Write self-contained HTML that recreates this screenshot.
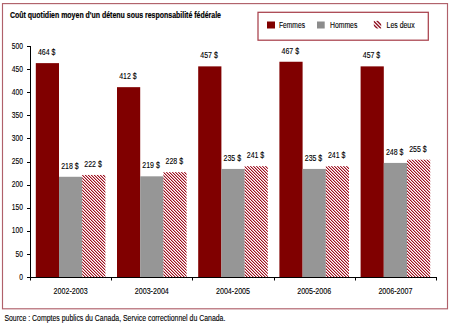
<!DOCTYPE html><html><head><meta charset="utf-8"><style>html,body{margin:0;padding:0;background:#fff;width:450px;height:326px;overflow:hidden}svg{display:block}</style></head><body><svg width="450" height="326" viewBox="0 0 450 326" style="font-family:'Liberation Sans',sans-serif"><defs><pattern id="h" patternUnits="userSpaceOnUse" x="0" y="0" width="3" height="3" shape-rendering="crispEdges"><rect x="0" y="0" width="1" height="1" fill="#9c101e"/><rect x="1" y="1" width="1" height="1" fill="#9c101e"/><rect x="2" y="2" width="1" height="1" fill="#9c101e"/><rect x="1" y="0" width="1" height="1" fill="#dc9aa2"/><rect x="2" y="1" width="1" height="1" fill="#dc9aa2"/><rect x="0" y="2" width="1" height="1" fill="#dc9aa2"/></pattern></defs><rect x="0" y="0" width="450" height="326" fill="#fff"/><rect x="2.5" y="3.6" width="445" height="305.2" fill="none" stroke="#b0606a" stroke-width="1.15"/><text x="10" y="17.8" font-size="9.6" font-weight="bold" fill="#000" stroke="#000" stroke-width="0.2" textLength="211" lengthAdjust="spacingAndGlyphs">Coût quotidien moyen d'un détenu sous responsabilité fédérale</text><rect x="258" y="12.3" width="170.3" height="27.9" fill="none" stroke="#a8404c" stroke-width="1.25"/><rect x="267" y="21.5" width="8" height="7" fill="#800000"/><text x="279" y="28.4" font-size="8.5" fill="#000" stroke="#000" stroke-width="0.12" textLength="26" lengthAdjust="spacingAndGlyphs">Femmes</text><rect x="317" y="21.5" width="7.7" height="7" fill="#8c8c8c"/><text x="330" y="28.4" font-size="8.5" fill="#000" stroke="#000" stroke-width="0.12" textLength="27.3" lengthAdjust="spacingAndGlyphs">Hommes</text><clipPath id="lc"><rect x="373.8" y="20.8" width="7.4" height="7.6"/></clipPath><g clip-path="url(#lc)" stroke="#901020" stroke-width="1.35"><path d="M373,20.5L382,29.5M376.6,20.5L382,25.9M372.5,23.6L378,29.1"/></g><text x="386.6" y="28.4" font-size="8.5" fill="#000" stroke="#000" stroke-width="0.12" textLength="28" lengthAdjust="spacingAndGlyphs">Les deux</text><line x1="27" y1="277.5" x2="30.5" y2="277.5" stroke="#000" stroke-width="1"/><text x="22.9" y="279.60" font-size="8.3" fill="#000" stroke="#000" stroke-width="0.12" text-anchor="end" textLength="3.73" lengthAdjust="spacingAndGlyphs">0</text><line x1="27" y1="254.5" x2="30.5" y2="254.5" stroke="#000" stroke-width="1"/><text x="22.9" y="256.50" font-size="8.3" fill="#000" stroke="#000" stroke-width="0.12" text-anchor="end" textLength="7.47" lengthAdjust="spacingAndGlyphs">50</text><line x1="27" y1="231.5" x2="30.5" y2="231.5" stroke="#000" stroke-width="1"/><text x="22.9" y="233.40" font-size="8.3" fill="#000" stroke="#000" stroke-width="0.12" text-anchor="end" textLength="11.20" lengthAdjust="spacingAndGlyphs">100</text><line x1="27" y1="208.5" x2="30.5" y2="208.5" stroke="#000" stroke-width="1"/><text x="22.9" y="210.30" font-size="8.3" fill="#000" stroke="#000" stroke-width="0.12" text-anchor="end" textLength="11.20" lengthAdjust="spacingAndGlyphs">150</text><line x1="27" y1="185.5" x2="30.5" y2="185.5" stroke="#000" stroke-width="1"/><text x="22.9" y="187.20" font-size="8.3" fill="#000" stroke="#000" stroke-width="0.12" text-anchor="end" textLength="11.20" lengthAdjust="spacingAndGlyphs">200</text><line x1="27" y1="162.5" x2="30.5" y2="162.5" stroke="#000" stroke-width="1"/><text x="22.9" y="164.10" font-size="8.3" fill="#000" stroke="#000" stroke-width="0.12" text-anchor="end" textLength="11.20" lengthAdjust="spacingAndGlyphs">250</text><line x1="27" y1="138.5" x2="30.5" y2="138.5" stroke="#000" stroke-width="1"/><text x="22.9" y="141.00" font-size="8.3" fill="#000" stroke="#000" stroke-width="0.12" text-anchor="end" textLength="11.20" lengthAdjust="spacingAndGlyphs">300</text><line x1="27" y1="115.5" x2="30.5" y2="115.5" stroke="#000" stroke-width="1"/><text x="22.9" y="117.90" font-size="8.3" fill="#000" stroke="#000" stroke-width="0.12" text-anchor="end" textLength="11.20" lengthAdjust="spacingAndGlyphs">350</text><line x1="27" y1="92.5" x2="30.5" y2="92.5" stroke="#000" stroke-width="1"/><text x="22.9" y="94.80" font-size="8.3" fill="#000" stroke="#000" stroke-width="0.12" text-anchor="end" textLength="11.20" lengthAdjust="spacingAndGlyphs">400</text><line x1="27" y1="69.5" x2="30.5" y2="69.5" stroke="#000" stroke-width="1"/><text x="22.9" y="71.70" font-size="8.3" fill="#000" stroke="#000" stroke-width="0.12" text-anchor="end" textLength="11.20" lengthAdjust="spacingAndGlyphs">450</text><line x1="27" y1="46.5" x2="30.5" y2="46.5" stroke="#000" stroke-width="1"/><text x="22.9" y="48.60" font-size="8.3" fill="#000" stroke="#000" stroke-width="0.12" text-anchor="end" textLength="11.20" lengthAdjust="spacingAndGlyphs">500</text><rect x="35.80" y="63.13" width="23.20" height="213.87" fill="#800000"/><text x="46.70" y="55.03" font-size="8.4" fill="#000" stroke="#000" stroke-width="0.12" text-anchor="middle" textLength="17.5" lengthAdjust="spacingAndGlyphs">464 $</text><rect x="59.00" y="176.78" width="23.20" height="100.22" fill="#969696"/><text x="69.90" y="168.68" font-size="8.4" fill="#000" stroke="#000" stroke-width="0.12" text-anchor="middle" textLength="17.5" lengthAdjust="spacingAndGlyphs">218 $</text><rect x="82.20" y="174.94" width="23.20" height="102.06" fill="url(#h)"/><text x="93.10" y="166.84" font-size="8.4" fill="#000" stroke="#000" stroke-width="0.12" text-anchor="middle" textLength="17.5" lengthAdjust="spacingAndGlyphs">222 $</text><text x="70.60" y="294" font-size="8.4" fill="#000" stroke="#000" stroke-width="0.12" text-anchor="middle" textLength="34" lengthAdjust="spacingAndGlyphs">2002-2003</text><rect x="117.00" y="87.16" width="23.20" height="189.84" fill="#800000"/><text x="127.90" y="79.06" font-size="8.4" fill="#000" stroke="#000" stroke-width="0.12" text-anchor="middle" textLength="17.5" lengthAdjust="spacingAndGlyphs">412 $</text><rect x="140.20" y="176.32" width="23.20" height="100.68" fill="#969696"/><text x="151.10" y="168.22" font-size="8.4" fill="#000" stroke="#000" stroke-width="0.12" text-anchor="middle" textLength="17.5" lengthAdjust="spacingAndGlyphs">219 $</text><rect x="163.40" y="172.16" width="23.20" height="104.84" fill="url(#h)"/><text x="174.30" y="164.06" font-size="8.4" fill="#000" stroke="#000" stroke-width="0.12" text-anchor="middle" textLength="17.5" lengthAdjust="spacingAndGlyphs">228 $</text><text x="151.80" y="294" font-size="8.4" fill="#000" stroke="#000" stroke-width="0.12" text-anchor="middle" textLength="34" lengthAdjust="spacingAndGlyphs">2003-2004</text><rect x="198.20" y="66.37" width="23.20" height="210.63" fill="#800000"/><text x="209.10" y="58.27" font-size="8.4" fill="#000" stroke="#000" stroke-width="0.12" text-anchor="middle" textLength="17.5" lengthAdjust="spacingAndGlyphs">457 $</text><rect x="221.40" y="168.93" width="23.20" height="108.07" fill="#969696"/><text x="232.30" y="160.83" font-size="8.4" fill="#000" stroke="#000" stroke-width="0.12" text-anchor="middle" textLength="17.5" lengthAdjust="spacingAndGlyphs">235 $</text><rect x="244.60" y="166.16" width="23.20" height="110.84" fill="url(#h)"/><text x="255.50" y="158.06" font-size="8.4" fill="#000" stroke="#000" stroke-width="0.12" text-anchor="middle" textLength="17.5" lengthAdjust="spacingAndGlyphs">241 $</text><text x="233.00" y="294" font-size="8.4" fill="#000" stroke="#000" stroke-width="0.12" text-anchor="middle" textLength="34" lengthAdjust="spacingAndGlyphs">2004-2005</text><rect x="279.40" y="61.75" width="23.20" height="215.25" fill="#800000"/><text x="290.30" y="53.65" font-size="8.4" fill="#000" stroke="#000" stroke-width="0.12" text-anchor="middle" textLength="17.5" lengthAdjust="spacingAndGlyphs">467 $</text><rect x="302.60" y="168.93" width="23.20" height="108.07" fill="#969696"/><text x="313.50" y="160.83" font-size="8.4" fill="#000" stroke="#000" stroke-width="0.12" text-anchor="middle" textLength="17.5" lengthAdjust="spacingAndGlyphs">235 $</text><rect x="325.80" y="166.16" width="23.20" height="110.84" fill="url(#h)"/><text x="336.70" y="158.06" font-size="8.4" fill="#000" stroke="#000" stroke-width="0.12" text-anchor="middle" textLength="17.5" lengthAdjust="spacingAndGlyphs">241 $</text><text x="314.20" y="294" font-size="8.4" fill="#000" stroke="#000" stroke-width="0.12" text-anchor="middle" textLength="34" lengthAdjust="spacingAndGlyphs">2005-2006</text><rect x="360.60" y="66.37" width="23.20" height="210.63" fill="#800000"/><text x="371.50" y="58.27" font-size="8.4" fill="#000" stroke="#000" stroke-width="0.12" text-anchor="middle" textLength="17.5" lengthAdjust="spacingAndGlyphs">457 $</text><rect x="383.80" y="162.92" width="23.20" height="114.08" fill="#969696"/><text x="394.70" y="154.82" font-size="8.4" fill="#000" stroke="#000" stroke-width="0.12" text-anchor="middle" textLength="17.5" lengthAdjust="spacingAndGlyphs">248 $</text><rect x="407.00" y="159.69" width="23.20" height="117.31" fill="url(#h)"/><text x="417.90" y="151.59" font-size="8.4" fill="#000" stroke="#000" stroke-width="0.12" text-anchor="middle" textLength="17.5" lengthAdjust="spacingAndGlyphs">255 $</text><text x="395.40" y="294" font-size="8.4" fill="#000" stroke="#000" stroke-width="0.12" text-anchor="middle" textLength="34" lengthAdjust="spacingAndGlyphs">2006-2007</text><line x1="30.5" y1="46" x2="30.5" y2="280" stroke="#000" stroke-width="1"/><line x1="30" y1="277.5" x2="436.5" y2="277.5" stroke="#000" stroke-width="1"/><line x1="30.5" y1="277" x2="30.5" y2="280.5" stroke="#000" stroke-width="1"/><line x1="111.5" y1="277" x2="111.5" y2="280.5" stroke="#000" stroke-width="1"/><line x1="192.5" y1="277" x2="192.5" y2="280.5" stroke="#000" stroke-width="1"/><line x1="274.5" y1="277" x2="274.5" y2="280.5" stroke="#000" stroke-width="1"/><line x1="355.5" y1="277" x2="355.5" y2="280.5" stroke="#000" stroke-width="1"/><line x1="436.5" y1="277" x2="436.5" y2="280.5" stroke="#000" stroke-width="1"/><text x="4.4" y="321" font-size="8.6" fill="#000" stroke="#000" stroke-width="0.12" textLength="221" lengthAdjust="spacingAndGlyphs">Source : Comptes publics du Canada, Service correctionnel du Canada.</text></svg></body></html>
